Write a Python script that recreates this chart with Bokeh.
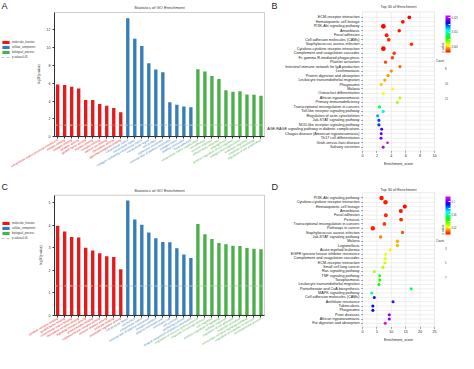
import colorsys
import math
from bokeh.plotting import figure
from bokeh.models import (Range1d, FixedTicker, LabelSet, ColumnDataSource, Legend, LegendItem,
                          ColorBar, LinearColorMapper, Label, BoxAnnotation)
from bokeh.layouts import row, column
from bokeh.embed import file_html
from bokeh.resources import INLINE
from bokeh.core.properties import value, field

FONT = "Liberation Sans"

GROUPS = ["molecular_function", "cellular_component", "biological_process"]
GROUP_COLORS = ["#E41A1C", "#377EB8", "#4DAF4A"]
P_CUTOFF = 0.05

# ---------------- Panel A (GO bars) ----------------
a_mf_terms = ["extracellular matrix structural constituent", "integrin binding", "collagen binding",
              "cytokine activity", "growth factor activity", "heparin binding", "receptor binding",
              "calcium ion binding", "chemokine activity", "glycosaminoglycan binding"]
a_mf_vals = [5.86, 5.8, 5.6, 5.4, 4.13, 4.13, 3.66, 3.47, 3.22, 2.75]
a_cc_terms = ["extracellular matrix", "extracellular space", "collagen-containing extracellular matrix",
              "extracellular region", "cell surface", "basement membrane",
              "external side of plasma membrane", "collagen trimer", "plasma membrane", "focal adhesion"]
a_cc_vals = [13.3, 11.0, 10.2, 8.24, 7.54, 7.25, 3.88, 3.58, 3.4, 3.3]
a_bp_terms = ["extracellular matrix organization", "cell adhesion", "immune response",
              "inflammatory response", "angiogenesis", "positive regulation of cell migration",
              "collagen fibril organization", "leukocyte migration", "response to wounding",
              "regulation of cell proliferation"]
a_bp_vals = [7.58, 7.32, 6.81, 6.48, 5.23, 5.05, 5.1, 4.75, 4.7, 4.6]
a_ymax = 13.95
a_yticks = [0, 2, 4, 6, 8, 10, 12]

# ---------------- Panel C (GO bars) ----------------
c_mf_terms = ["cytokine receptor binding", "growth factor binding", "extracellular matrix binding",
              "chemokine receptor binding", "signaling receptor activity", "protein kinase binding",
              "transmembrane receptor activity", "enzyme inhibitor activity", "protease binding",
              "peptidase regulator activity"]
c_mf_vals = [3.97, 3.72, 3.47, 3.45, 3.0, 2.87, 2.75, 2.62, 2.58, 2.04]
c_cc_terms = ["extracellular space", "cell surface", "extracellular matrix",
              "external side of plasma membrane", "receptor complex", "plasma membrane part",
              "membrane raft", "cell junction", "anchoring junction",
              "integral component of plasma membrane"]
c_cc_vals = [5.1, 4.25, 4.02, 3.67, 3.42, 3.25, 3.24, 2.97, 2.7, 2.54]
c_bp_terms = ["regulation of immune system process", "response to external stimulus", "cell migration",
              "positive regulation of signaling", "defense response", "regulation of cell adhesion",
              "leukocyte activation", "cell surface receptor signaling pathway",
              "regulation of response to stimulus", "developmental process"]
c_bp_vals = [4.05, 3.6, 3.38, 3.21, 3.15, 3.08, 3.07, 2.98, 2.95, 2.93]
c_ymax = 5.33
c_yticks = [0, 1, 2, 3, 4, 5]

# ---------------- Panel B (KEGG dots) ----------------
b_terms = ["ECM-receptor interaction", "Hematopoietic cell lineage", "PI3K-Akt signaling pathway",
           "Amoebiasis", "Focal adhesion", "Cell adhesion molecules (CAMs)",
           "Staphylococcus aureus infection", "Cytokine-cytokine receptor interaction",
           "Complement and coagulation cascades", "Fc gamma R-mediated phagocytosis",
           "Platelet activation", "Intestinal immune network for IgA production", "Leishmaniasis",
           "Protein digestion and absorption", "Leukocyte transendothelial migration", "Phagosome",
           "Malaria", "Osteoclast differentiation", "African trypanosomiasis",
           "Primary immunodeficiency", "Transcriptional misregulation in cancers",
           "Toll-like receptor signaling pathway", "Regulation of actin cytoskeleton",
           "Jak-STAT signaling pathway", "NOD-like receptor signaling pathway",
           "AGE-RAGE signaling pathway in diabetic complications",
           "Chagas disease (American trypanosomiasis)", "Th17 cell differentiation",
           "Graft-versus-host disease", "Salivary secretion"]
b_scores = [6.5, 5.6, 2.9, 5.1, 3.35, 3.65, 6.8, 2.9, 4.4, 4.15, 3.2, 5.2, 4.0, 3.55, 3.1, 2.6,
            4.2, 2.9, 5.2, 4.85, 2.36, 2.87, 2.1, 2.28, 2.28, 2.66, 2.6, 2.57, 3.47, 2.87]
b_pvals = [0.0010, 0.0012, 0.0008, 0.0014, 0.0016, 0.0018, 0.0019, 0.0011, 0.0021, 0.0023,
           0.0025, 0.0030, 0.0037, 0.0040, 0.0043, 0.0050, 0.0060, 0.0062, 0.0075, 0.0080,
           0.0130, 0.0155, 0.0180, 0.0200, 0.0205, 0.0225, 0.0230, 0.0235, 0.0255, 0.0248]
b_counts = [10, 10, 14, 9, 11, 10, 9, 14, 9, 9, 9, 8, 8, 8, 8, 8, 7, 8, 7, 7, 8, 8, 8, 8, 8,
            7, 7, 7, 6, 7]
b_xticks = [0, 2, 4, 6, 8, 10]
b_cb_range = (0.001, 0.0265)
b_cbticks = [0.005, 0.01, 0.015, 0.02, 0.025]
b_size_legend = [8, 10, 12]

# ---------------- Panel D (KEGG dots) ----------------
d_terms = ["PI3K-Akt signaling pathway", "Cytokine-cytokine receptor interaction",
           "Hematopoietic cell lineage", "Amoebiasis", "Focal adhesion", "Pertussis",
           "Transcriptional misregulation in cancers", "Pathways in cancer",
           "Staphylococcus aureus infection", "Jak-STAT signaling pathway", "Malaria",
           "Legionellosis", "Acute myeloid leukemia", "EGFR tyrosine kinase inhibitor resistance",
           "Complement and coagulation cascades", "ECM-receptor interaction",
           "Small cell lung cancer", "Ras signaling pathway", "TNF signaling pathway",
           "Toxoplasmosis", "Leukocyte transendothelial migration",
           "Pantothenate and CoA biosynthesis", "MAPK signaling pathway",
           "Cell adhesion molecules (CAMs)", "Antifolate resistance", "Tuberculosis", "Phagosome",
           "Prion diseases", "African trypanosomiasis", "Fat digestion and absorption"]
d_scores = [6.6, 8.0, 14.7, 13.3, 8.1, 13.4, 7.6, 3.6, 13.9, 6.3, 12.1, 12.1, 9.6, 8.0, 7.9,
            7.8, 7.1, 4.1, 6.0, 6.0, 5.7, 16.9, 3.2, 4.1, 10.6, 3.6, 3.6, 9.3, 9.3, 7.9]
d_pvals = [0.002, 0.003, 0.001, 0.002, 0.004, 0.004, 0.005, 0.003, 0.008, 0.012, 0.016, 0.017,
           0.022, 0.025, 0.026, 0.027, 0.030, 0.031, 0.042, 0.043, 0.045, 0.055, 0.060, 0.090,
           0.098, 0.092, 0.093, 0.104, 0.105, 0.112]
d_counts = [7, 7, 6, 6, 6, 5, 5, 7, 4, 4, 4, 4, 3, 3, 3, 3, 3, 3, 3, 3, 3, 3, 3, 3, 3, 3, 3,
            3, 3, 3]
d_xticks = [0, 5, 10, 15, 20, 25]
d_cb_range = (0.0, 0.115)
d_cbticks = [0.02, 0.04, 0.06, 0.08, 0.1]
d_size_legend = [3, 5, 7]

TXT = "#333333"
BAR_W = 266
DOT_W = 192


def rainbow(n=256):
    out = []
    for i in range(n):
        h = (300.0 / 360.0) * i / (n - 1)
        r, g, b = colorsys.hsv_to_rgb(h, 1.0, 1.0)
        out.append("#%02x%02x%02x" % (int(r * 255), int(g * 255), int(b * 255)))
    return out


PALETTE = rainbow()


def make_ranges(W, H, box, vis_x, vis_y):
    bx0, bx1, bt, bb = box
    x0, x1 = vis_x
    y0, y1 = vis_y
    kx = (bx1 - bx0) / (x1 - x0)
    ky = (bb - bt) / (y1 - y0)
    return (Range1d(x0 - bx0 / kx, x1 + (W - bx1) / kx),
            Range1d(y0 - (H - bb) / ky, y1 + bt / ky))


def base_fig(W, H, xr, yr):
    p = figure(width=W, height=H, x_range=xr, y_range=yr, output_backend="svg",
               toolbar_location=None, min_border=0)
    p.min_border_left = p.min_border_right = p.min_border_top = p.min_border_bottom = 0
    p.outline_line_color = None
    p.xgrid.visible = False
    p.ygrid.visible = False
    return p


def add_letter(p, letter, H, left, top):
    p.add_layout(Label(x=left, y=H - top, x_units="screen", y_units="screen", text=letter,
                       text_baseline="top", text_align="left", text_font=FONT,
                       text_font_size="9px", text_color="#222222"))


def bar_panel(letter, groups_terms, groups_vals, ymax, yticks, H, box, title_dy, legend_bottom,
              letter_top):
    W = BAR_W
    n = sum(len(v) for v in groups_vals)
    vis_x = (-0.45, n - 0.5)
    vis_y = (0, ymax)
    xr, yr = make_ranges(W, H, box, vis_x, vis_y)
    p = base_fig(W, H, xr, yr)

    renderers = []
    lab_x, lab_t, lab_c = [], [], []
    start = 0
    for terms, vals, col in zip(groups_terms, groups_vals, GROUP_COLORS):
        xs = list(range(start, start + len(vals)))
        src = ColumnDataSource(dict(x=xs, top=vals))
        r = p.vbar(x="x", top="top", width=0.48, bottom=0, source=src, fill_color=col,
                   line_color=None)
        renderers.append(r)
        lab_x += xs
        lab_t += terms
        lab_c += [col] * len(vals)
        start += len(vals)

    cut = -math.log10(P_CUTOFF)
    rl = p.segment(x0=[vis_x[0]], x1=[vis_x[1]], y0=[cut], y1=[cut], line_color="#b4c8b4",
                   line_width=1, line_dash="3 2")

    p.add_layout(BoxAnnotation(left=vis_x[0], right=vis_x[1], bottom=vis_y[0], top=vis_y[1],
                               fill_alpha=0, line_color="#333333", line_width=0.8))

    p.add_layout(LabelSet(source=ColumnDataSource(dict(x=lab_x, t=lab_t, c=lab_c)), x="x", y=0,
                          y_offset=-3, text="t", text_color=field("c"), angle=math.pi / 6,
                          text_align="right", text_baseline="middle", text_font=value(FONT),
                          text_font_size=value("3px")))

    p.add_layout(Label(x=(vis_x[0] + vis_x[1]) / 2, y=ymax, y_offset=title_dy,
                       text="Statistics of GO Enrichment", text_align="center",
                       text_baseline="middle", text_font=FONT, text_font_size="4.1px",
                       text_color=TXT))

    items = [LegendItem(label=g, renderers=[r]) for g, r in zip(GROUPS, renderers)]
    items.append(LegendItem(label="p-value=%g" % P_CUTOFF, renderers=[rl]))
    p.add_layout(Legend(items=items, location=(1, int(H - legend_bottom)), glyph_width=9,
                        glyph_height=4, label_height=4, spacing=1, padding=0, margin=0,
                        label_standoff=2, label_text_font=FONT, label_text_font_size="2.7px",
                        label_text_color=TXT, border_line_alpha=0, background_fill_alpha=0))

    p.xaxis.fixed_location = 0
    p.xaxis.bounds = vis_x
    p.xaxis.ticker = FixedTicker(ticks=lab_x)
    p.xaxis.major_label_overrides = {x: "" for x in lab_x}
    p.xaxis.major_tick_out = 2
    p.xaxis.major_tick_in = 0
    p.xaxis.minor_tick_line_color = None
    p.xaxis.axis_line_color = "#333333"
    p.xaxis.major_tick_line_color = "#333333"

    p.yaxis.fixed_location = vis_x[0]
    p.yaxis.bounds = vis_y
    p.yaxis.ticker = FixedTicker(ticks=yticks)
    p.yaxis.minor_tick_line_color = None
    p.yaxis.major_tick_out = 2
    p.yaxis.major_tick_in = 0
    p.yaxis.axis_line_color = "#333333"
    p.yaxis.major_tick_line_color = "#333333"
    p.yaxis.major_label_text_font = FONT
    p.yaxis.major_label_text_font_size = "3.6px"
    p.yaxis.major_label_text_color = TXT
    p.yaxis.major_label_standoff = 2
    p.yaxis.axis_label = "-log10(p-value)"
    p.yaxis.axis_label_text_font = FONT
    p.yaxis.axis_label_text_font_size = "3px"
    p.yaxis.axis_label_text_font_style = "normal"
    p.yaxis.axis_label_text_color = TXT
    p.yaxis.axis_label_standoff = 3

    add_letter(p, letter, H, 1, letter_top)
    return p


def dot_panel(letter, terms, scores, pvals, counts, size_k, xticks, cb_range, cbticks, size_leg,
              H, box, title_dy, cb_box, leg_centers, letter_top):
    W = DOT_W
    n = len(terms)
    ys = list(range(n - 1, -1, -1))
    vis_x = (xticks[0], xticks[-1])
    vis_y = (-0.87, n - 1 + 1.22)
    xr, yr = make_ranges(W, H, box, vis_x, vis_y)
    p = base_fig(W, H, xr, yr)

    grid = dict(line_color="#e4e4e4", line_width=0.6, level="underlay")
    p.segment(x0=vis_x[0], x1=vis_x[1], y0=ys, y1=ys, **grid)
    p.segment(x0=xticks[1:-1], x1=xticks[1:-1], y0=vis_y[0], y1=vis_y[1], **grid)
    p.add_layout(BoxAnnotation(left=vis_x[0], right=vis_x[1], bottom=vis_y[0], top=vis_y[1],
                               fill_alpha=0, line_color="#8f8f8f", line_width=0.6))

    mapper = LinearColorMapper(palette=PALETTE, low=cb_range[0], high=cb_range[1])
    base, k = size_k
    sizes = [base + k * c for c in counts]
    src = ColumnDataSource(dict(x=scores, y=ys, p=pvals, s=sizes))
    p.scatter(x="x", y="y", size="s", source=src, fill_color={"field": "p", "transform": mapper},
              line_color=None)

    p.add_layout(Label(x=(vis_x[0] + vis_x[1]) / 2, y=vis_y[1], y_offset=title_dy,
                       text="Top 30 of Enrichment", text_align="center", text_baseline="middle",
                       text_font=FONT, text_font_size="3.8px", text_color=TXT))

    p.yaxis.fixed_location = vis_x[0]
    p.yaxis.bounds = vis_y
    p.yaxis.ticker = FixedTicker(ticks=ys)
    p.yaxis.major_label_overrides = {y: t for y, t in zip(ys, terms)}
    p.yaxis.major_label_text_font = FONT
    p.yaxis.major_label_text_font_size = "3.75px"
    p.yaxis.major_label_text_color = "#222222"
    p.yaxis.major_label_standoff = 2
    p.yaxis.axis_line_color = None
    p.yaxis.major_tick_out = 1
    p.yaxis.major_tick_in = 0
    p.yaxis.major_tick_line_color = "#555555"
    p.yaxis.minor_tick_line_color = None

    p.xaxis.fixed_location = vis_y[0]
    p.xaxis.bounds = vis_x
    p.xaxis.ticker = FixedTicker(ticks=xticks)
    p.xaxis.major_label_text_font = FONT
    p.xaxis.major_label_text_font_size = "3.6px"
    p.xaxis.major_label_text_color = "#222222"
    p.xaxis.major_label_standoff = 2
    p.xaxis.axis_line_color = None
    p.xaxis.major_tick_out = 1
    p.xaxis.major_tick_in = 0
    p.xaxis.major_tick_line_color = "#555555"
    p.xaxis.minor_tick_line_color = None
    p.xaxis.axis_label = "Enrichment_score"
    p.xaxis.axis_label_text_font = FONT
    p.xaxis.axis_label_text_font_size = "3.6px"
    p.xaxis.axis_label_text_font_style = "normal"
    p.xaxis.axis_label_text_color = "#222222"
    p.xaxis.axis_label_standoff = 1

    cbx, cbt, cbb = cb_box
    p.add_layout(ColorBar(color_mapper=mapper, ticker=FixedTicker(ticks=cbticks), width=5,
                          height=int(round(cbb - cbt)), title="p-value", title_text_font=FONT,
                          title_text_font_size="3px", title_text_font_style="normal",
                          title_standoff=2, major_label_text_font=FONT,
                          major_label_text_font_size="2.6px", label_standoff=1,
                          major_tick_line_color="white", major_tick_out=0, major_tick_in=2,
                          padding=0, margin=0, bar_line_color=None,
                          location=(cbx, int(round(H - cbb))), background_fill_alpha=0))

    dot_x = cbx + 3
    for i, (cnt, cy) in enumerate(zip(size_leg, leg_centers)):
        g = int(round((base + k * cnt) / 0.4))
        r = p.scatter(x=[], y=[], size=0.4 * g, fill_color="black", line_color=None)
        leg = Legend(items=[LegendItem(label=str(cnt), renderers=[r])],
                     location=(int(round(dot_x - g / 2)), int(round(H - cy - g / 2))),
                     glyph_width=g, glyph_height=g, label_height=3, spacing=0, padding=0,
                     margin=0, label_standoff=max(0, int(round(5 - g / 2))),
                     label_text_font=FONT, label_text_font_size="2.7px", label_text_color=TXT,
                     border_line_alpha=0, background_fill_alpha=0)
        if i == 0:
            leg.title = "Count"
            leg.title_text_font = FONT
            leg.title_text_font_size = "3px"
            leg.title_text_font_style = "normal"
            leg.title_text_color = TXT
            leg.title_standoff = 2
        p.add_layout(leg)

    add_letter(p, letter, H, 5, letter_top)
    return p


pA = bar_panel("A", [a_mf_terms, a_cc_terms, a_bp_terms], [a_mf_vals, a_cc_vals, a_bp_vals],
               a_ymax, a_yticks, 176, (54, 264, 12, 136.2), 5.4, 59, 0)
pB = dot_panel("B", b_terms, b_scores, b_pvals, b_counts, (1.2, 0.25), b_xticks, b_cb_range,
               b_cbticks, b_size_legend, 176, (96, 168, 11.4, 150.6), 4.6, (171, 14.7, 51.8),
               [69.1, 84.1, 99.5], 0)
pC = bar_panel("C", [c_mf_terms, c_cc_terms, c_bp_terms], [c_mf_vals, c_cc_vals, c_bp_vals],
               c_ymax, c_yticks, 177, (54, 264, 18.7, 138.7), 4.9, 63.8, 5)
pD = dot_panel("D", d_terms, d_scores, d_pvals, d_counts, (2.0, 0.35), d_xticks, d_cb_range,
               d_cbticks, d_size_legend, 177, (96, 168, 16.2, 150.6), 3.1, (171, 19.4, 57.8),
               [73.4, 87.4, 102.1], 5)

layout = column(row(pA, pB), row(pC, pD))
open("out.html", "w").write(file_html(layout, INLINE))
